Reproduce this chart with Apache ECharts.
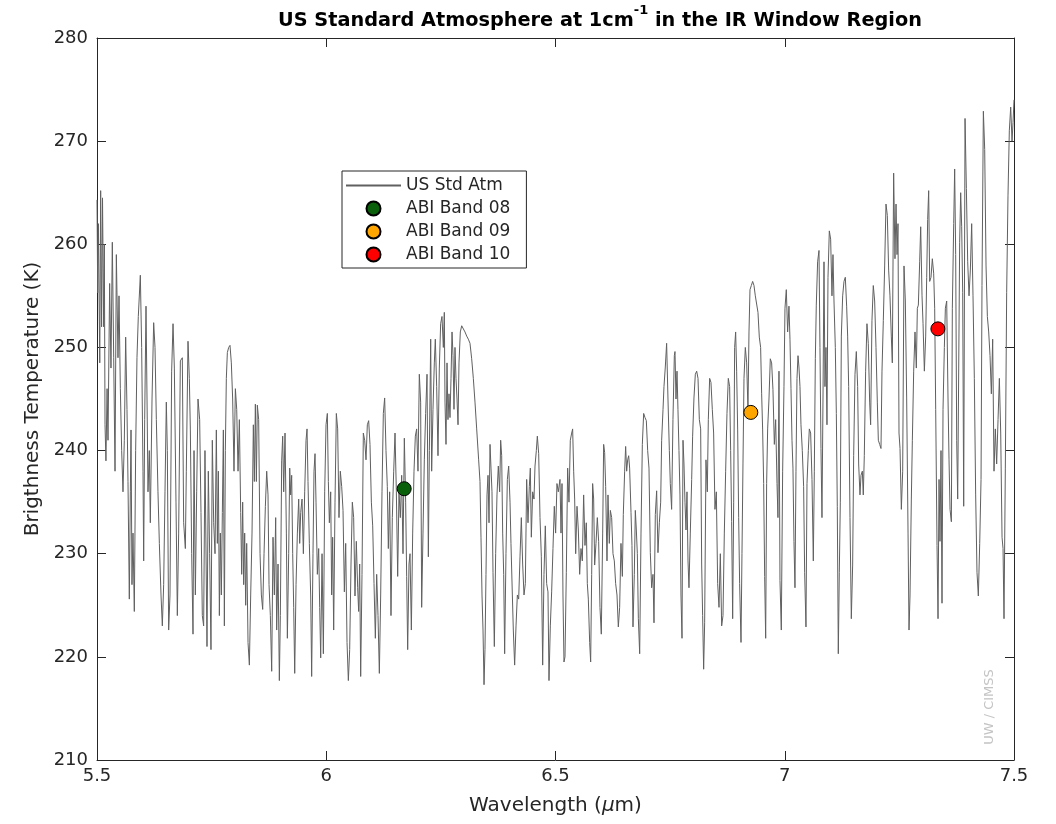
<!DOCTYPE html>
<html>
<head>
<meta charset="utf-8">
<title>US Standard Atmosphere at 1cm-1 in the IR Window Region</title>
<script src="https://cdn.jsdelivr.net/npm/echarts@6/dist/echarts.min.js"></script>
<style>
html, body { margin: 0; padding: 0; background: #fff; }
#chart { width: 1056px; height: 824px; }
</style>
</head>
<body>
<div id="chart"></div>
<script>
// brightness temperature spectrum [wavelength um, K]
const spec1 = [[5.5000,264.3],[5.5015,255.3],[5.5030,262],[5.5060,248.5],[5.5080,265.2],[5.5100,252],[5.5120,264.5],[5.5145,252],[5.5160,260],[5.5175,242.5],[5.5195,239],[5.5220,246],[5.5240,241],[5.5276,256.2],[5.5305,248],[5.5334,260.2],[5.5364,249],[5.5393,238],[5.5422,259],[5.5458,249],[5.5480,255],[5.5509,246],[5.5538,240],[5.5567,236],[5.5596,241],[5.5625,251],[5.5654,244],[5.5676,237],[5.5705,225.6],[5.5727,236],[5.5742,242],[5.5763,227],[5.5785,232],[5.5814,224.4],[5.5843,240],[5.5872,249],[5.5901,253],[5.5945,257],[5.5974,250],[5.6003,238],[5.6018,229.3],[5.6040,243],[5.6069,254],[5.6091,245],[5.6112,236],[5.6141,240],[5.6163,233],[5.6200,245],[5.6236,252.4],[5.6265,250],[5.6294,243],[5.6330,236],[5.6360,231],[5.6396,226],[5.6425,223],[5.6454,227],[5.6483,236],[5.6512,244.7],[5.6534,240],[5.6563,222.6],[5.6592,226],[5.6628,247.7],[5.6658,252.3],[5.6687,248],[5.6723,235],[5.6752,224],[5.6781,232],[5.6818,248.7],[5.6861,249],[5.6890,233],[5.6927,230.5],[5.6948,238],[5.6985,250.6],[5.7014,247],[5.7036,242],[5.7065,230],[5.7094,222.2],[5.7116,240],[5.7145,226],[5.7174,236],[5.7203,245],[5.7239,243],[5.7268,234],[5.7297,224],[5.7326,223],[5.7355,240],[5.7399,221],[5.7428,238],[5.7457,230],[5.7486,220.7],[5.7515,241],[5.7545,233],[5.7574,230],[5.7603,242]];
const spec2 = [[5.7625,231],[5.7647,238],[5.7669,224],[5.7690,232],[5.7712,226],[5.7734,234],[5.7756,242],[5.7778,223],[5.7799,240],[5.7821,247],[5.7843,249.5],[5.7872,250],[5.7901,250.2],[5.7930,248.5],[5.7959,245],[5.7988,238],[5.8018,246],[5.8047,244],[5.8076,238],[5.8105,243],[5.8134,234],[5.8156,228],[5.8177,235],[5.8199,227],[5.8221,232],[5.8243,225],[5.8265,231],[5.8294,221.4],[5.8323,219.2],[5.8352,226],[5.8381,232],[5.8410,242.5],[5.8432,237],[5.8454,244.5],[5.8476,237],[5.8497,244.4],[5.8526,243],[5.8556,230],[5.8585,226],[5.8614,224.6],[5.8643,230],[5.8672,234.6],[5.8701,238],[5.8730,235.7],[5.8752,227],[5.8781,224],[5.8810,218.6],[5.8839,231.6],[5.8868,226],[5.8897,233.5],[5.8919,222.6],[5.8948,229],[5.8977,217.7],[5.8999,224],[5.9028,239],[5.9050,241.4],[5.9072,236],[5.9101,241.7],[5.9130,232],[5.9152,221.8],[5.9181,230],[5.9203,238.3],[5.9224,235.7],[5.9246,237.6],[5.9268,230],[5.9290,224.8],[5.9312,218.4],[5.9341,227],[5.9370,232],[5.9399,235.3],[5.9421,231],[5.9443,234],[5.9472,235.3],[5.9501,230],[5.9530,236],[5.9559,241],[5.9581,242.1],[5.9602,237],[5.9631,231],[5.9661,225.9],[5.9682,218.1],[5.9711,230],[5.9733,238],[5.9755,239.7],[5.9777,235],[5.9806,228],[5.9835,230.5],[5.9857,224.8],[5.9879,219.9],[5.9908,230],[5.9937,220.3],[5.9966,236],[5.9995,242.5],[6.0024,243.6],[6.0046,237],[6.0068,233]];
const spec3 = [[6.0097,236],[6.0118,226],[6.0140,231.6],[6.0162,222.6],[6.0191,235],[6.0220,243.6],[6.0249,242.1],[6.0278,233.5],[6.0307,238],[6.0337,236.5],[6.0366,234.2],[6.0395,226.3],[6.0424,231],[6.0453,221.4],[6.0482,217.7],[6.0511,220.7],[6.0540,229],[6.0569,235],[6.0598,233.5],[6.0627,225.9],[6.0656,231.2],[6.0685,226.7],[6.0707,224.4],[6.0729,229],[6.0751,218.1],[6.0780,228],[6.0809,241.7],[6.0838,241],[6.0867,239.1],[6.0896,242.5],[6.0925,242.9],[6.0954,240.6],[6.0984,235],[6.1013,232.7],[6.1042,227.1],[6.1071,221.8],[6.1100,228],[6.1129,224],[6.1158,218.4],[6.1187,226],[6.1216,236],[6.1245,243.6],[6.1274,245.1],[6.1303,240],[6.1332,236.5],[6.1354,230.5],[6.1383,236],[6.1412,224],[6.1441,233.5],[6.1471,238],[6.1500,241.7],[6.1529,236],[6.1558,227.8],[6.1587,236],[6.1616,233.5],[6.1645,237.6],[6.1674,230],[6.1703,241.2],[6.1732,235],[6.1754,227.8],[6.1776,220.7],[6.1805,229],[6.1827,230],[6.1856,222.6],[6.1885,232],[6.1914,238],[6.1943,241.4],[6.1972,242.1],[6.2001,238],[6.2030,247.4],[6.2059,244.7],[6.2081,224.8],[6.2110,232],[6.2139,239.1],[6.2168,243.6],[6.2198,247.4],[6.2227,229.7],[6.2249,240],[6.2278,250.8],[6.2299,238],[6.2328,244],[6.2357,248.5],[6.2379,250.8],[6.2408,246.2],[6.2437,239.5],[6.2466,248],[6.2495,252.3],[6.2524,253],[6.2554,250],[6.2575,253.4]];
const spec4 = [[6.2590,244.7],[6.2612,240.6],[6.2634,248.5],[6.2655,243],[6.2677,245.5],[6.2699,243.2],[6.2721,247],[6.2743,251.5],[6.2765,249.2],[6.2786,244],[6.2808,250],[6.2830,247],[6.2852,245],[6.2874,242.5],[6.2895,248.5],[6.2924,251.5],[6.2954,252.1],[6.2990,252.1],[6.3026,251.5],[6.3063,251.1],[6.3099,250.8],[6.3135,250.4],[6.3172,248.9],[6.3208,247],[6.3244,244.7],[6.3281,242.1],[6.3324,239.1],[6.3353,237],[6.3375,231.6],[6.3397,226],[6.3419,222.6],[6.3441,217.3],[6.3462,220.7],[6.3484,228],[6.3506,235.7],[6.3528,237.6],[6.3550,233],[6.3572,240.6],[6.3593,238.3],[6.3615,236],[6.3637,228.2],[6.3666,221],[6.3695,230],[6.3724,235.7],[6.3753,238.5],[6.3782,236],[6.3804,241],[6.3826,239.5],[6.3848,232],[6.3870,228],[6.3891,220.3],[6.3920,230],[6.3950,237.2],[6.3979,238.5],[6.4008,235],[6.4029,231],[6.4059,226],[6.4080,222.6],[6.4109,219.2],[6.4139,223],[6.4168,226],[6.4197,225.6],[6.4226,229.7],[6.4255,233.5],[6.4284,229],[6.4313,226],[6.4342,227.1],[6.4371,237.2],[6.4400,233],[6.4429,236.5],[6.4451,238.3],[6.4473,231.6],[6.4502,236],[6.4531,235.3],[6.4553,238.5],[6.4582,240],[6.4604,241.4],[6.4633,239.7],[6.4662,233.5],[6.4691,229.7],[6.4720,219.2],[6.4749,228],[6.4778,232.7],[6.4807,227.1],[6.4836,226.3],[6.4858,217.7],[6.4887,223],[6.4916,226.3],[6.4945,230.5],[6.4974,234.6],[6.5003,232],[6.5032,236.8],[6.5061,236]];
const spec5 = [[6.5098,237.2],[6.5120,232],[6.5142,236.8],[6.5163,226],[6.5185,219.5],[6.5207,220],[6.5236,228.2],[6.5265,238.3],[6.5294,235],[6.5323,241],[6.5353,241.7],[6.5374,242.1],[6.5396,238],[6.5418,235.3],[6.5440,230],[6.5469,234.6],[6.5498,232.3],[6.5527,228],[6.5556,230.5],[6.5585,229.3],[6.5614,235.7],[6.5643,230.8],[6.5672,233],[6.5694,227.1],[6.5716,225.6],[6.5745,221.4],[6.5767,219.5],[6.5789,228],[6.5810,236.8],[6.5832,235.3],[6.5854,228.9],[6.5883,231],[6.5912,233.5],[6.5941,231.2],[6.5970,224.8],[6.5999,222.2],[6.6029,232],[6.6050,240.6],[6.6072,239.8],[6.6094,236.5],[6.6123,229.3],[6.6145,235.7],[6.6174,231],[6.6196,234.2],[6.6225,233.5],[6.6254,230],[6.6283,229.3],[6.6312,227.1],[6.6341,226],[6.6370,222.9],[6.6399,224.8],[6.6428,231],[6.6458,227.8],[6.6479,233.8],[6.6508,238],[6.6530,240.4],[6.6552,238],[6.6574,239.1],[6.6596,239.5],[6.6617,238.3],[6.6647,234],[6.6668,230.8],[6.6690,222.9],[6.6719,228],[6.6741,234.2],[6.6763,232.3],[6.6785,230],[6.6807,223.7],[6.6836,220.3],[6.6865,232],[6.6894,240.6],[6.6923,243.6],[6.6952,243.2],[6.6981,242.9],[6.7010,240],[6.7039,238.3],[6.7068,230.1],[6.7097,226.7],[6.7126,228],[6.7148,223.3],[6.7177,233.8],[6.7206,236.1],[6.7235,230.1],[6.7265,233],[6.7294,235],[6.7315,241],[6.7345,244],[6.7366,246.2],[6.7395,248.1],[6.7424,250.4],[6.7453,245],[6.7483,240],[6.7504,236.8],[6.7533,234.3],[6.7562,243],[6.7592,249.2]];
const spec6 = [[6.7606,249.6],[6.7628,245],[6.7650,247.7],[6.7671,244],[6.7693,240],[6.7715,235.7],[6.7737,225.9],[6.7759,221.8],[6.7781,241],[6.7802,238.7],[6.7824,235],[6.7846,232.3],[6.7868,236],[6.7890,229.3],[6.7911,226.7],[6.7940,232],[6.7970,237.2],[6.7991,241.4],[6.8020,245.1],[6.8050,247.4],[6.8079,247.7],[6.8108,247],[6.8137,243],[6.8166,242.1],[6.8188,229],[6.8209,224],[6.8231,218.8],[6.8253,223.3],[6.8282,239.1],[6.8311,236],[6.8333,243],[6.8362,247],[6.8391,246.6],[6.8420,244],[6.8449,241.7],[6.8478,234.3],[6.8508,236],[6.8537,227.1],[6.8566,224.8],[6.8595,230],[6.8624,223],[6.8653,224],[6.8682,232],[6.8711,238],[6.8740,243.6],[6.8769,247],[6.8798,246.2],[6.8820,240],[6.8842,233.1],[6.8864,223.7],[6.8886,235],[6.8907,250],[6.8929,251.5],[6.8951,247.7],[6.8973,242],[6.8995,233.5],[6.9016,227.1],[6.9046,221.4],[6.9067,230],[6.9089,238.7],[6.9111,247],[6.9140,250],[6.9169,248.5],[6.9198,244],[6.9220,251.5],[6.9242,255.6],[6.9271,256],[6.9300,256.4],[6.9329,256],[6.9358,255],[6.9387,254.9],[6.9416,253.4],[6.9445,251],[6.9474,250],[6.9496,245.5],[6.9518,242],[6.9540,236.8],[6.9562,227.8],[6.9584,221.8],[6.9605,236.8],[6.9627,242.1],[6.9656,245],[6.9685,248.9],[6.9714,248.5],[6.9743,245.9],[6.9773,240.6],[6.9802,243],[6.9831,236.8],[6.9852,233.5],[6.9874,247.7],[6.9896,227.4],[6.9925,222.6],[6.9954,238],[6.9983,246.2],[7.0005,253.8],[7.0034,255.6],[7.0063,251.5],[7.0092,254]];
const spec7 = [[7.0114,250.8],[7.0136,246],[7.0158,241],[7.0179,238.3],[7.0201,231.2],[7.0223,226.7],[7.0245,238],[7.0267,247],[7.0289,249.2],[7.0310,248.1],[7.0332,246.2],[7.0354,242.5],[7.0383,240],[7.0412,236.5],[7.0434,228.2],[7.0463,222.9],[7.0485,236.8],[7.0514,240],[7.0536,242.1],[7.0565,241.7],[7.0594,237.2],[7.0623,229.3],[7.0645,238],[7.0667,248.9],[7.0688,254.1],[7.0717,258.3],[7.0747,259.4],[7.0768,250],[7.0790,240.2],[7.0812,233.5],[7.0834,245],[7.0856,258.3],[7.0877,246.2],[7.0899,250],[7.0921,242.5],[7.0943,256.8],[7.0972,261.3],[7.1001,260.5],[7.1030,255],[7.1052,259],[7.1074,254.5],[7.1103,250],[7.1125,243.6],[7.1146,234.6],[7.1168,220.3],[7.1190,228.2],[7.1212,235],[7.1234,251.1],[7.1263,255],[7.1292,256.4],[7.1321,256.8],[7.1350,254],[7.1372,251.1],[7.1394,246.2],[7.1423,233.5],[7.1452,223.7],[7.1481,228.9],[7.1503,239.5],[7.1532,247.4],[7.1561,249.6],[7.1590,246.2],[7.1612,238.7],[7.1641,235.7],[7.1663,237.6],[7.1692,238],[7.1713,235.7],[7.1735,239.5],[7.1764,247.7],[7.1793,252.3],[7.1822,250.4],[7.1852,244.7],[7.1873,242.5],[7.1902,252.6],[7.1931,256],[7.1961,254.5],[7.1990,250],[7.2019,244.7],[7.2041,241],[7.2070,240.6],[7.2099,240.2],[7.2121,247.7],[7.2150,252.6],[7.2179,257.9],[7.2208,263.9],[7.2237,262.8],[7.2266,257.5],[7.2295,255],[7.2324,251.1],[7.2346,248.5],[7.2375,266.9],[7.2404,258.6]];
const spec8 = [[7.2427,263.9],[7.2449,259],[7.2470,262],[7.2492,241.7],[7.2514,240.2],[7.2543,234.3],[7.2572,238],[7.2601,257.9],[7.2630,254.5],[7.2659,245.1],[7.2689,232],[7.2710,222.6],[7.2732,225.9],[7.2761,235.3],[7.2783,241],[7.2812,247.7],[7.2841,251.5],[7.2870,248],[7.2892,253.8],[7.2914,254.1],[7.2943,258.3],[7.2965,261.7],[7.2994,255],[7.3016,252.3],[7.3045,247.7],[7.3074,251.1],[7.3096,256.8],[7.3117,262.4],[7.3139,265.2],[7.3161,256.4],[7.3190,256.8],[7.3219,258.6],[7.3248,257.2],[7.3270,253.8],[7.3292,244],[7.3321,230.8],[7.3343,223.7],[7.3365,237.2],[7.3386,231.2],[7.3408,240],[7.3430,225.2],[7.3452,244],[7.3481,250],[7.3503,253.8],[7.3532,254.5],[7.3561,245],[7.3583,239.1],[7.3605,234.3],[7.3634,233.1],[7.3655,253.8],[7.3685,262],[7.3706,267.3],[7.3728,259],[7.3750,241],[7.3772,235.3],[7.3794,248],[7.3815,260.2],[7.3837,265],[7.3859,261.7],[7.3881,255.3],[7.3903,234.6],[7.3932,272.2],[7.3961,265.4],[7.3990,258.3],[7.4019,255],[7.4048,257.5],[7.4077,262],[7.4106,255],[7.4135,247],[7.4164,235.7],[7.4193,228.2],[7.4222,225.9],[7.4252,231],[7.4281,237.2],[7.4302,256],[7.4332,272.9],[7.4361,269.2],[7.4390,257.9],[7.4419,253],[7.4448,251.5],[7.4477,249.2],[7.4506,245.5],[7.4535,250.8],[7.4564,238],[7.4593,242.1],[7.4622,238.7],[7.4652,243],[7.4681,247],[7.4710,241.7],[7.4739,231.6],[7.4761,230.5],[7.4782,223.7],[7.4811,238.3],[7.4840,255.3],[7.4869,264.7],[7.4898,271],[7.4928,273.3],[7.4957,270],[7.4979,271.8],[7.5000,274]];

// ABI band markers
const bandNames = ['ABI Band 08', 'ABI Band 09', 'ABI Band 10'];
const bandWl = [6.17, 6.926, 7.334];
const bandBt = [236.3, 243.7, 251.8];
const bandColors = ['#0a600a', '#ffa500', '#ff0000'];

const xMin = 5.5, xMax = 7.5, xStep = 0.5;
const yMin = 210, yMax = 280, yStep = 10;

const spectrum = spec1.concat(spec2, spec3, spec4, spec5, spec6, spec7, spec8);

var axisColor = '#262626';
var lineColor = '#606060';
var font = 'DejaVu Sans';

function xAxisDef(pos, showLabel) {
    return {
        type: 'value', position: pos, min: xMin, max: xMax, interval: xStep,
        axisLine: { show: true, lineStyle: { color: axisColor, width: 1 } },
        axisTick: { show: true, inside: true, length: 9, lineStyle: { color: axisColor } },
        axisLabel: {
            show: showLabel, margin: 7, color: axisColor, fontSize: 18, fontFamily: font,
            formatter: function (v) { return String(v); }
        },
        splitLine: { show: false }
    };
}
function yAxisDef(pos, showLabel) {
    return {
        type: 'value', position: pos, min: yMin, max: yMax, interval: yStep,
        axisLine: { show: true, lineStyle: { color: axisColor, width: 1 } },
        axisTick: { show: true, inside: true, length: 9, lineStyle: { color: axisColor } },
        axisLabel: { show: showLabel, margin: 9, color: axisColor, fontSize: 18, fontFamily: font },
        splitLine: { show: false }
    };
}

var myChart = echarts.init(document.getElementById('chart'));

var xa = xAxisDef('bottom', true);
xa.name = 'Wavelength ({i|μ}m)';
xa.nameLocation = 'middle';
xa.nameGap = 36;
xa.nameTextStyle = { color: axisColor, fontSize: 20, fontFamily: font, rich: { i: { fontStyle: 'italic', fontSize: 20, fontFamily: font, color: axisColor } } };

var ya = yAxisDef('left', true);
ya.name = 'Brigthness Temperature (K)';
ya.nameLocation = 'middle';
ya.nameGap = 54;
ya.nameTextStyle = { color: axisColor, fontSize: 20, fontFamily: font };

var series = [{
    name: 'US Std Atm',
    type: 'line',
    data: spectrum,
    symbol: 'none',
    lineStyle: { color: lineColor, width: 1 },
    itemStyle: { color: lineColor },
    z: 2
}];
for (var i = 0; i < bandNames.length; i++) {
    series.push({
        name: bandNames[i],
        type: 'scatter',
        data: [[bandWl[i], bandBt[i]]],
        symbol: 'circle',
        symbolSize: 14,
        itemStyle: { color: bandColors[i], borderColor: '#000', borderWidth: 1, opacity: 1 },
        z: 5
    });
}

var option = {
    animation: false,
    backgroundColor: '#fff',
    title: {
        text: '{a|US Standard Atmosphere at 1cm}{s|-1}{a| in the IR Window Region}',
        left: 595,
        top: -1,
        textAlign: 'center',
        textStyle: {
            rich: {
                a: { fontSize: 19.3, fontWeight: 'bold', fontFamily: font, color: '#000', lineHeight: 26, verticalAlign: 'bottom' },
                s: { fontSize: 13, fontWeight: 'bold', fontFamily: font, color: '#000', lineHeight: 26, verticalAlign: 'top', padding: [0, 0, 4, 0] }
            }
        }
    },
    legend: {
        orient: 'vertical',
        left: 342,
        top: 171,
        padding: [6, 16, 5, 3],
        itemWidth: 55,
        itemHeight: 14,
        itemGap: 6,
        backgroundColor: '#fff',
        borderColor: axisColor,
        borderWidth: 1,
        borderRadius: 0,
        textStyle: { color: axisColor, fontSize: 17, fontFamily: font, lineHeight: 17 },
        data: [{ name: 'US Std Atm', itemStyle: { opacity: 0 } }].concat(bandNames)
    },
    grid: { left: 97, right: 42, top: 38, bottom: 64 },
    xAxis: [xa, xAxisDef('top', false)],
    yAxis: [ya, yAxisDef('right', false)],
    graphic: [{
        type: 'text',
        x: 990,
        y: 707,
        rotation: Math.PI / 2,
        style: {
            text: 'UW / CIMSS',
            fill: '#c4c4c4',
            fontSize: 13,
            fontFamily: font,
            textAlign: 'center',
            textVerticalAlign: 'middle'
        },
        z: 10
    }],
    series: series
};
myChart.setOption(option);
</script>
</body>
</html>
